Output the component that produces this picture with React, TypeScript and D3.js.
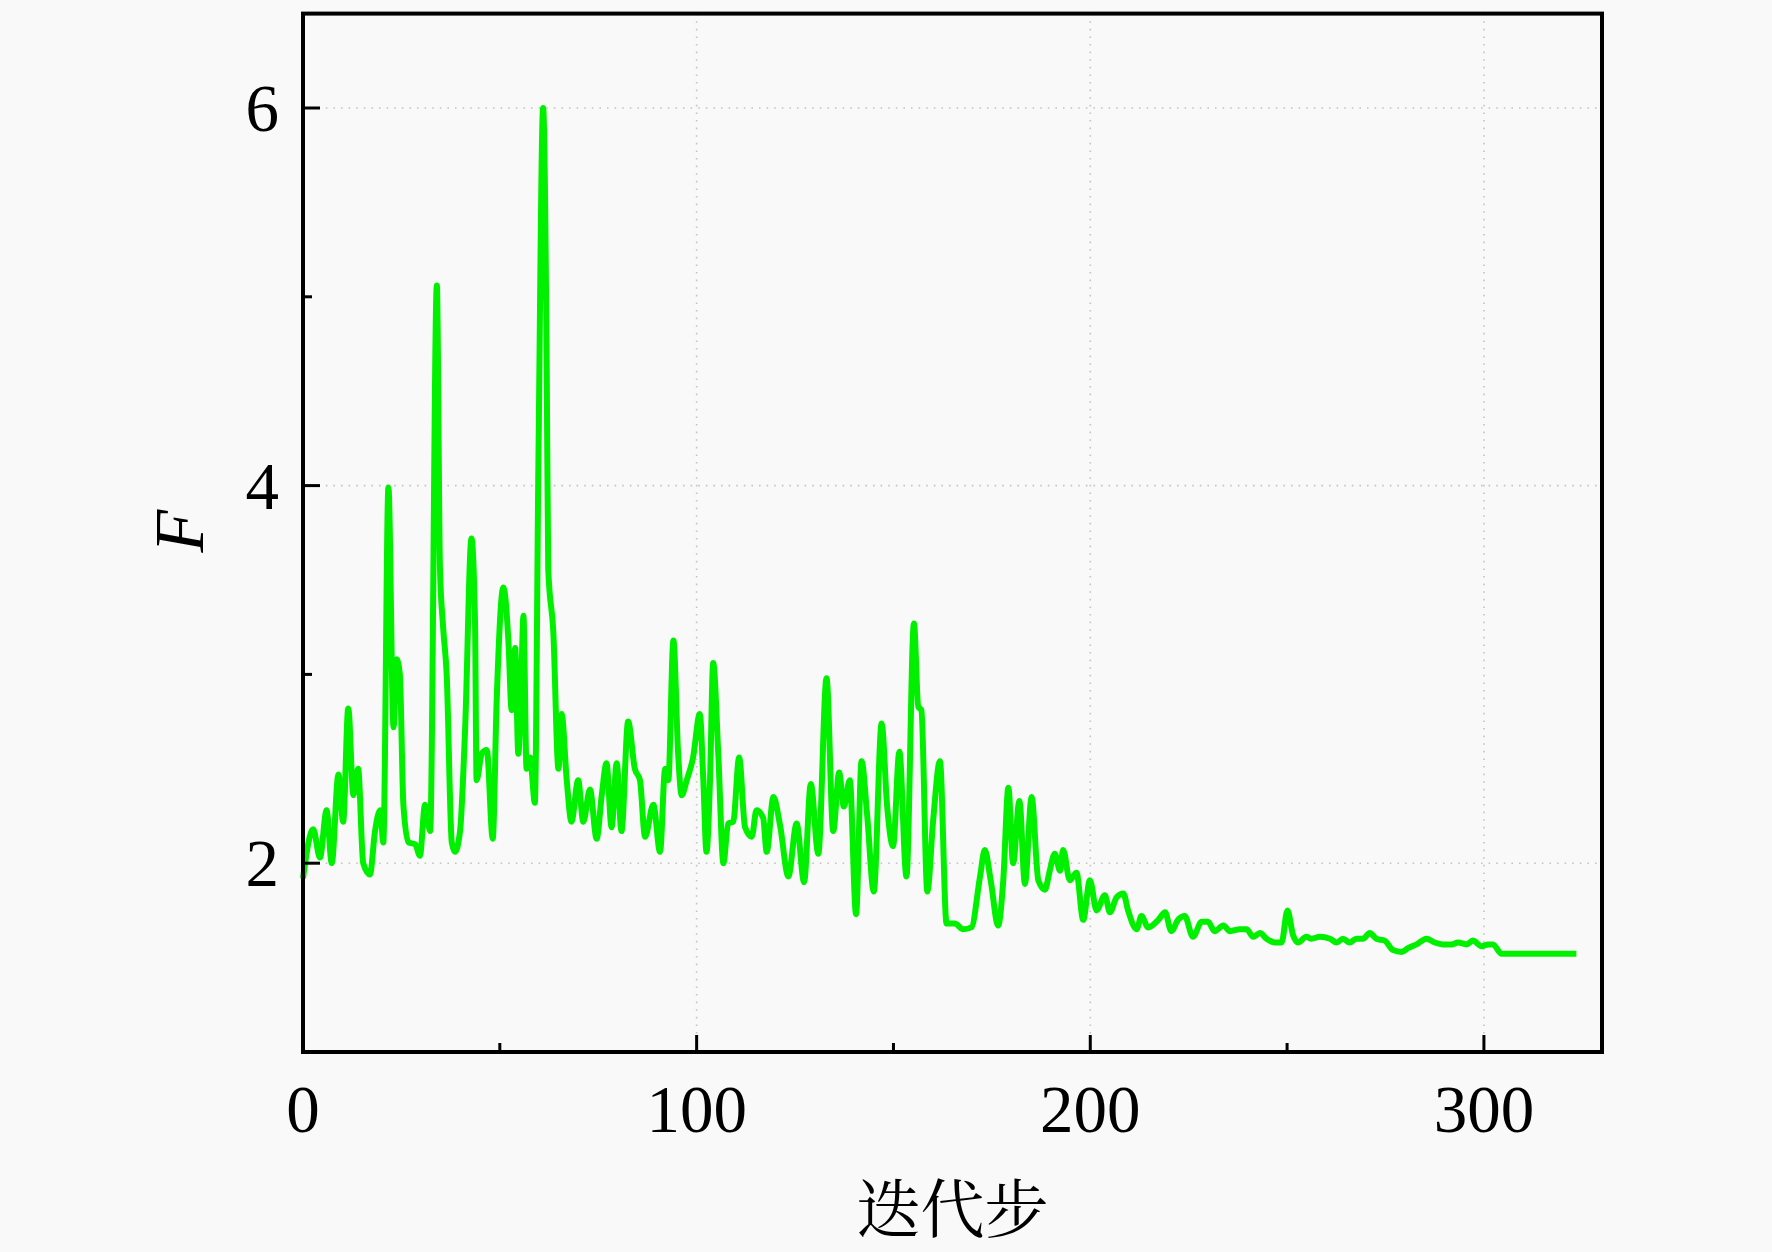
import React from "react";
import * as d3 from "d3";

const steps: number[] = [
  0, 2.6, 4.3, 6, 7.3, 9, 10.2, 11.5, 12.8, 14, 15.3, 17, 18.3, 19.6, 20.4, 21.7, 23, 23.8, 24.6, 25.5,
  26.8, 28.5, 29.7, 31, 32.3, 34, 34.8, 35.6, 36.5, 37.8, 38.6, 39.9, 41.2, 42.8, 43.7, 44.1, 45.4, 46.7, 48.2, 49.2,
  50.9, 52.2, 53, 53.9, 54.7, 55.5, 56, 56.8, 57.7, 58.9, 59.8, 61, 61.9, 62.3, 63.6, 64.9, 65.7, 67, 68.2, 69.9,
  71.2, 72.9, 74.6, 75.9, 77.1, 78.4, 79.7, 80.9, 82.6, 84.3, 85.6, 86.9, 89, 90.7, 92, 92.8, 94.1, 95.3, 96.2, 97.5,
  99.1, 100.8, 101.7, 102.5, 103.4, 104.2, 105.5, 106.8, 108, 109.3, 110.8, 112.3, 114, 115.2, 116.9, 117.8, 119.5, 121.2, 123.3, 125.4,
  127.3, 129, 130.9, 133, 134.7, 136.2, 137.4, 138.9, 140.5, 141.9, 143.3, 145, 147, 148.4, 149.9, 151.5, 153.3, 155.2, 156.3, 157.1,
  158.6, 160.1, 161.8, 163.5, 165.6, 167.7, 169.8, 172, 173.2, 174.7, 176.6, 177.9, 179.2, 180.4, 182, 183.4, 185.1, 186.8, 188.5, 189.6,
  191, 192.3, 193.1, 194.8, 196.5, 198.2, 199.9, 201.6, 203.7, 205, 206.7, 208.4, 209.6, 211.8, 213, 214.7, 217.3, 219, 220.6, 222.3,
  224, 226.1, 228.3, 229.9, 231.6, 233.8, 235.5, 238, 239.7, 241.4, 243.1, 244.8, 246.9, 248.6, 250.1, 251.5, 252.8, 254.9, 256.2, 258.3,
  260.9, 262.6, 264.2, 265.9, 267.6, 269.3, 271, 272.7, 274.8, 276.9, 279.1, 280.7, 282.9, 285.4, 287.5, 289.6, 291.8, 293.4, 295.6, 297.2,
  299.4, 301.1, 302.3, 304.5, 311.7, 323.5,
];

const fValues: number[] = [
  1.92, 2.18, 2.03, 2.28, 2.0, 2.47, 2.22, 2.82, 2.36, 2.5, 2.0, 1.94, 2.17, 2.28, 2.11, 3.99, 2.72, 3.08, 3.0, 2.31,
  2.11, 2.1, 2.04, 2.31, 2.17, 5.06, 3.56, 3.25, 3.0, 2.11, 2.06, 2.17, 2.72, 3.72, 3.28, 2.44, 2.58, 2.6, 2.13, 2.86,
  3.46, 3.17, 2.81, 3.14, 2.58, 3.0, 3.31, 2.5, 2.56, 2.32, 4.11, 6.0, 4.67, 3.56, 3.22, 2.5, 2.79, 2.44, 2.22, 2.44,
  2.22, 2.39, 2.13, 2.36, 2.53, 2.19, 2.53, 2.17, 2.75, 2.5, 2.44, 2.14, 2.31, 2.06, 2.5, 2.44, 3.18, 2.58, 2.36, 2.44,
  2.56, 2.79, 2.44, 2.06, 2.44, 3.06, 2.58, 2.0, 2.21, 2.22, 2.56, 2.19, 2.14, 2.28, 2.24, 2.06, 2.35, 2.2, 1.93, 2.21,
  1.9, 2.42, 2.05, 2.98, 2.17, 2.48, 2.3, 2.44, 1.73, 2.54, 2.26, 1.85, 2.74, 2.3, 2.09, 2.59, 1.93, 3.27, 2.83, 2.81,
  1.85, 2.23, 2.54, 1.68, 1.68, 1.65, 1.66, 1.93, 2.07, 1.91, 1.67, 1.91, 2.4, 2.0, 2.33, 1.89, 2.35, 1.91, 1.86, 1.95,
  2.05, 1.96, 2.07, 1.91, 1.95, 1.7, 1.91, 1.75, 1.83, 1.74, 1.82, 1.84, 1.75, 1.65, 1.72, 1.66, 1.7, 1.74, 1.64, 1.7,
  1.72, 1.61, 1.69, 1.69, 1.64, 1.67, 1.64, 1.65, 1.65, 1.61, 1.63, 1.6, 1.58, 1.58, 1.75, 1.62, 1.58, 1.61, 1.6, 1.61,
  1.6, 1.58, 1.6, 1.58, 1.6, 1.6, 1.63, 1.6, 1.59, 1.54, 1.53, 1.55, 1.57, 1.6, 1.58, 1.57, 1.57, 1.58, 1.57, 1.59,
  1.56, 1.57, 1.57, 1.52, 1.52, 1.52,
];

const xMajorTicks: number[] = [0, 100, 200, 300];
const xMinorTicks: number[] = [50, 150, 250];
const yMajorTicks: number[] = [2, 4, 6];
const yMinorTicks: number[] = [3, 5];
const xLabel = "迭代步";
const yLabel = "F";

const W = 1772;
const H = 1252;
const left = 303;
const right = 1602;
const top = 13.6;
const bottom = 1052;

export default function App() {
  const x = d3.scaleLinear().domain([0, 330]).range([left, right]);
  const y = d3.scaleLinear().domain([1, 6.5]).range([bottom, top]);
  const pts = steps.map((s, i) => [s, fValues[i]] as [number, number]);
  const line = d3
    .line<[number, number]>()
    .x((d) => x(d[0]))
    .y((d) => y(d[1]))
    .curve(d3.curveMonotoneX);

  const serif = "'Liberation Serif', 'Times New Roman', serif";
  const gridStyle = { stroke: "#c4c4c4", strokeWidth: 1.6, strokeDasharray: "1.6 6" };

  return (
    <svg
      width={W}
      height={H}
      viewBox={`0 0 ${W} ${H}`}
      style={{ position: "absolute", left: 0, top: 0, display: "block" }}
    >
      <rect x={0} y={0} width={W} height={H} fill="#f9f9f9" />
      {xMajorTicks
        .filter((t) => t > 0)
        .map((t) => (
          <line key={"gx" + t} x1={x(t)} x2={x(t)} y1={top} y2={bottom} {...gridStyle} />
        ))}
      {yMajorTicks.map((t) => (
        <line key={"gy" + t} x1={left} x2={right} y1={y(t)} y2={y(t)} {...gridStyle} />
      ))}
      <path d={line(pts) || ""} fill="none" stroke="#00f000" strokeWidth={6} strokeLinejoin="round" />
      {xMajorTicks.map((t) => (
        <line key={"xt" + t} x1={x(t)} x2={x(t)} y1={bottom} y2={bottom - 17} stroke="#000" strokeWidth={3} />
      ))}
      {xMinorTicks.map((t) => (
        <line key={"xm" + t} x1={x(t)} x2={x(t)} y1={bottom} y2={bottom - 9} stroke="#000" strokeWidth={3} />
      ))}
      {yMajorTicks.map((t) => (
        <line key={"yt" + t} x1={left} x2={left + 17} y1={y(t)} y2={y(t)} stroke="#000" strokeWidth={3} />
      ))}
      {yMinorTicks.map((t) => (
        <line key={"ym" + t} x1={left} x2={left + 9} y1={y(t)} y2={y(t)} stroke="#000" strokeWidth={3} />
      ))}
      <rect
        x={left}
        y={top}
        width={right - left}
        height={bottom - top}
        fill="none"
        stroke="#000"
        strokeWidth={4}
      />
      {xMajorTicks.map((t) => (
        <text
          key={"xl" + t}
          x={x(t)}
          y={1132}
          textAnchor="middle"
          fontFamily={serif}
          fontSize={67}
          fill="#000"
        >
          {t}
        </text>
      ))}
      {yMajorTicks.map((t) => (
        <text
          key={"yl" + t}
          x={279}
          y={y(t) + 23}
          textAnchor="end"
          fontFamily={serif}
          fontSize={67}
          fill="#000"
        >
          {t}
        </text>
      ))}
      <text
        x={(left + right) / 2}
        y={1232}
        textAnchor="middle"
        fontFamily="'Noto Serif CJK SC', 'Noto Sans CJK SC', serif"
        fontSize={64}
        fill="#000"
      >
        {xLabel}
      </text>
      <text
        transform={`translate(203, 531) rotate(-90)`}
        textAnchor="middle"
        fontFamily={serif}
        fontStyle="italic"
        fontSize={70}
        fill="#000"
      >
        {yLabel}
      </text>
    </svg>
  );
}
